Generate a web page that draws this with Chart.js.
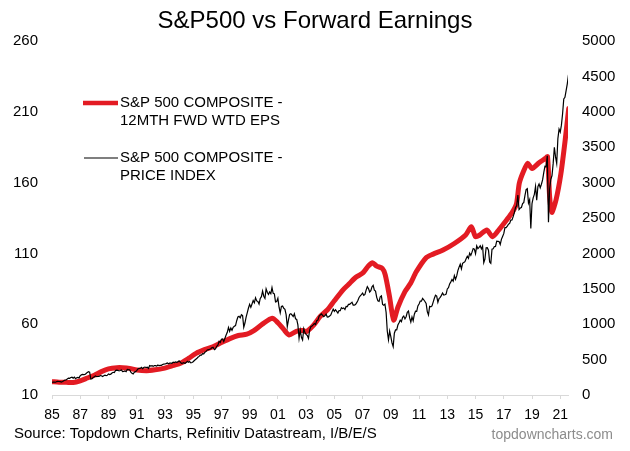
<!DOCTYPE html>
<html>
<head>
<meta charset="utf-8">
<script src="https://cdn.jsdelivr.net/npm/chart.js@4/dist/chart.umd.min.js"></script>
<style>
  html, body { margin: 0; padding: 0; background: #fff; }
  #wrap { width: 630px; height: 451px; position: relative; }
</style>
</head>
<body>
<div id="wrap"><canvas id="chart"></canvas></div>
<script>
// ---- Data ----
const titleText = "S&P500 vs Forward Earnings";
const sourceText = "Source: Topdown Charts, Refinitiv Datastream, I/B/E/S";
const brandText = "topdowncharts.com";

const epsLabel = ["S&P 500 COMPOSITE -", "12MTH FWD WTD EPS"];
const priceLabel = ["S&P 500 COMPOSITE -", "PRICE INDEX"];

// x-axis tick years (shown as two digits)
const tickYears = [1985, 1987, 1989, 1991, 1993, 1995, 1997, 1999, 2001, 2003,
  2005, 2007, 2009, 2011, 2013, 2015, 2017, 2019, 2021];
const leftTicks = [10, 60, 110, 160, 210, 260];
const rightTicks = [0, 500, 1000, 1500, 2000, 2500, 3000, 3500, 4000, 4500, 5000];

// 12m forward EPS (left axis), sampled at these dates
const epsYears = [1985.0, 1985.5, 1986.0, 1986.5, 1987.0, 1987.5, 1988.0, 1988.5, 1989.0, 1989.6,
  1990.0, 1990.5, 1991.0, 1991.7, 1992.3, 1992.9, 1993.5, 1994.1, 1994.7, 1995.2,
  1995.8, 1996.4, 1997.0, 1997.6, 1998.2, 1998.8, 1999.3, 1999.9, 2000.6, 2001.0,
  2001.4, 2001.8, 2002.3, 2002.8, 2003.0, 2003.5, 2004.0, 2004.5, 2005.0, 2005.6,
  2006.0, 2006.5, 2007.0, 2007.4, 2007.7, 2008.0, 2008.4, 2008.6, 2008.9, 2009.2,
  2009.5, 2010.0, 2010.4, 2010.8, 2011.5, 2012.0, 2012.7, 2013.5, 2014.3, 2014.7,
  2015.0, 2015.3, 2015.8, 2016.2, 2016.6, 2017.2, 2017.6, 2017.9, 2018.1, 2018.4,
  2018.7, 2019.0, 2019.5, 2019.95, 2020.1, 2020.25, 2020.4, 2020.7, 2021.05, 2021.35,
  2021.6];
const epsValues = [19.4, 19.0, 19.0, 18.8, 20.0, 22.0, 24.0, 26.5, 28.4, 29.3,
  29.3, 28.8, 27.7, 27.2, 27.8, 28.8, 30.5, 32.4, 36.0, 39.4,
  42.0, 44.1, 47.0, 49.8, 52.0, 53.0, 55.5, 60.0, 64.2, 61.0,
  56.5, 52.4, 55.0, 55.5, 54.7, 59.0, 65.5, 70.0, 76.5, 84.1,
  88.0, 93.0, 96.0, 101.0, 103.4, 101.0, 99.4, 95.0, 80.0, 63.0,
  72.0, 83.0, 88.9, 97.0, 107.0, 109.5, 112.4, 117.0, 123.0, 128.8,
  121.8, 123.0, 126.5, 121.8, 126.0, 133.6, 139.0, 145.0, 159.5, 168.0,
  173.6, 170.0, 174.0, 177.1, 178.3, 150.0, 139.0, 147.7, 166.5, 190.0,
  212.4];

// S&P 500 price index (right axis), one value per month from Jan 1985
const priceStart = 1985;
const priceValues = [
  180, 181, 181, 180, 190, 192, 191, 189, 182, 190, 202, 211,        // 85
  212, 227, 239, 236, 247, 251, 236, 253, 231, 244, 249, 242,        // 86
  274, 284, 292, 288, 290, 304, 319, 330, 322, 225, 230, 247,        // 87
  257, 268, 259, 261, 262, 274, 272, 262, 272, 279, 274, 278,        // 88
  298, 289, 295, 310, 321, 318, 346, 352, 349, 340, 346, 353,        // 89
  329, 332, 340, 331, 361, 358, 356, 323, 306, 296, 322, 330,        // 90
  344, 367, 375, 375, 390, 371, 388, 395, 388, 393, 375, 417,        // 91
  409, 413, 404, 415, 415, 408, 424, 414, 418, 419, 431, 436,        // 92
  439, 443, 452, 440, 450, 451, 448, 464, 459, 468, 462, 467,        // 93
  482, 467, 446, 451, 457, 444, 458, 476, 463, 472, 454, 459,        // 94
  470, 487, 501, 515, 533, 545, 562, 562, 584, 582, 605, 616,        // 95
  636, 640, 646, 654, 669, 671, 640, 652, 687, 705, 757, 741,        // 96
  786, 791, 757, 801, 848, 885, 954, 900, 947, 915, 955, 970,        // 97
  980, 1049, 1102, 1112, 1091, 1134, 1121, 957, 1017, 1099, 1164, 1229,   // 98
  1280, 1238, 1286, 1335, 1302, 1373, 1329, 1320, 1283, 1363, 1389, 1469, // 99
  1395, 1366, 1499, 1452, 1421, 1455, 1431, 1518, 1437, 1429, 1315, 1320, // 00
  1366, 1240, 1160, 1250, 1256, 1224, 1211, 1134, 966, 1060, 1140, 1148,  // 01
  1130, 1107, 1147, 1077, 1067, 990, 800, 916, 815, 777, 936, 880,        // 02
  856, 841, 800, 917, 964, 975, 990, 1008, 996, 1051, 1058, 1112,         // 03
  1131, 1145, 1126, 1107, 1121, 1141, 1102, 1104, 1115, 1130, 1174, 1212, // 04
  1181, 1204, 1181, 1157, 1192, 1191, 1234, 1220, 1229, 1207, 1250, 1248, // 05
  1280, 1281, 1295, 1311, 1270, 1270, 1277, 1304, 1336, 1378, 1401, 1418, // 06
  1438, 1407, 1421, 1482, 1531, 1503, 1455, 1474, 1527, 1549, 1481, 1468, // 07
  1379, 1331, 1323, 1386, 1400, 1280, 1267, 1283, 1166, 900, 780, 903,    // 08
  826, 735, 683, 873, 919, 919, 988, 1021, 1057, 1036, 1096, 1115,        // 09
  1074, 1105, 1169, 1187, 1089, 1031, 1102, 1049, 1141, 1183, 1181, 1258, // 10
  1286, 1327, 1326, 1364, 1345, 1321, 1292, 1178, 1131, 1253, 1247, 1258, // 11
  1312, 1366, 1409, 1398, 1310, 1362, 1379, 1407, 1441, 1412, 1416, 1426, // 12
  1498, 1515, 1569, 1598, 1631, 1606, 1686, 1633, 1682, 1757, 1806, 1848, // 13
  1783, 1860, 1872, 1884, 1924, 1960, 1931, 2003, 1972, 2018, 2068, 2059, // 14
  1995, 2105, 2068, 2086, 2107, 2063, 2104, 1870, 1920, 2079, 2080, 2044, // 15
  1880, 1860, 2060, 2065, 2097, 2099, 2174, 2171, 2168, 2126, 2199, 2239, // 16
  2279, 2364, 2363, 2384, 2412, 2423, 2470, 2472, 2519, 2575, 2648, 2674, // 17
  2824, 2620, 2641, 2648, 2705, 2718, 2816, 2902, 2914, 2712, 2760, 2351, // 18
  2704, 2785, 2834, 2946, 2752, 2942, 2980, 2927, 2977, 3038, 3141, 3231, // 19
  3225, 3380, 2440, 2912, 3044, 3100, 3271, 3500, 3363, 3270, 3622, 3756, // 20
  3714, 3811, 3973, 4181, 4204, 4298, 4395, 4523                          // 21
];

const RED = "#e31b23";
const FONT = "'Liberation Sans', Arial, sans-serif";

// Legend in the top-left of the plot + footer texts (drawn on the canvas)
const extrasPlugin = {
  id: "extras",
  afterDraw(chart) {
    const ctx = chart.ctx;
    ctx.save();
    ctx.font = "15px " + FONT;
    ctx.textBaseline = "middle";
    ctx.textAlign = "left";
    ctx.fillStyle = "#000";

    // legend: red EPS
    ctx.strokeStyle = RED;
    ctx.lineWidth = 4.5;
    ctx.beginPath(); ctx.moveTo(83, 103); ctx.lineTo(118, 103); ctx.stroke();
    epsLabel.forEach((t, i) => ctx.fillText(t, 120, 103 + i * 18));

    // legend: black price
    ctx.strokeStyle = "#000";
    ctx.lineWidth = 1.2;
    ctx.beginPath(); ctx.moveTo(84, 158); ctx.lineTo(118, 158); ctx.stroke();
    priceLabel.forEach((t, i) => ctx.fillText(t, 120, 158 + i * 17.5));

    // footer
    ctx.fillText(sourceText, 14, 434);
    ctx.font = "14px " + FONT;
    ctx.fillStyle = "#8c8c8c";
    ctx.textAlign = "right";
    ctx.fillText(brandText, 613, 435);
    ctx.restore();
  },
};

Chart.defaults.font.family = FONT;
Chart.defaults.color = "#000";

new Chart(document.getElementById("chart"), {
  type: "line",
  data: {
    datasets: [
      {
        label: epsLabel.join(" "),
        data: epsYears.map((x, i) => ({ x, y: epsValues[i] })),
        yAxisID: "y",
        borderColor: RED,
        borderWidth: 5,
        pointRadius: 0,
        tension: 0.25,
        borderJoinStyle: "round",
        borderCapStyle: "round",
        order: 1,
      },
      {
        label: priceLabel.join(" "),
        data: priceValues.map((v, i) => ({ x: priceStart + i / 12, y: v })),
        yAxisID: "y1",
        borderColor: "#000",
        borderWidth: 1.2,
        pointRadius: 0,
        tension: 0,
        order: 0,
      },
    ],
  },
  options: {
    animation: false,
    responsive: true,
    maintainAspectRatio: false,
    events: [],
    layout: { padding: { left: 0, right: 0, top: 0, bottom: 26 } },
    plugins: {
      legend: { display: false },
      tooltip: { enabled: false },
      title: {
        display: true,
        text: titleText,
        color: "#000",
        font: { size: 24, weight: "normal", family: FONT },
        padding: { top: 7, bottom: 5.2 },
      },
    },
    scales: {
      x: {
        type: "linear",
        min: 1985,
        max: 2021.55,
        afterBuildTicks: s => { s.ticks = tickYears.map(v => ({ value: v })); },
        afterFit: s => { s.height = 30; },
        ticks: {
          autoSkip: false,
          maxRotation: 0,
          padding: 8,
          font: { size: 14 },
          callback: v => String(v % 100).padStart(2, "0"),
        },
        grid: { display: true, drawOnChartArea: false, drawTicks: true, tickLength: 4, color: "#d9d9d9" },
        border: { display: true, color: "#d9d9d9" },
      },
      y: {
        position: "left",
        min: 10,
        max: 260,
        afterBuildTicks: s => { s.ticks = leftTicks.map(v => ({ value: v })); },
        afterFit: s => { s.width = 52; },
        ticks: { padding: 14, font: { size: 15 }, callback: v => String(v) },
        grid: { display: false, drawTicks: false },
        border: { display: false },
      },
      y1: {
        position: "right",
        min: 0,
        max: 5000,
        afterBuildTicks: s => { s.ticks = rightTicks.map(v => ({ value: v })); },
        afterFit: s => { s.width = 62; },
        ticks: { padding: 14, font: { size: 15 }, callback: v => String(v) },
        grid: { display: false, drawTicks: false },
        border: { display: false },
      },
    },
  },
  plugins: [extrasPlugin],
});
</script>
</body>
</html>
